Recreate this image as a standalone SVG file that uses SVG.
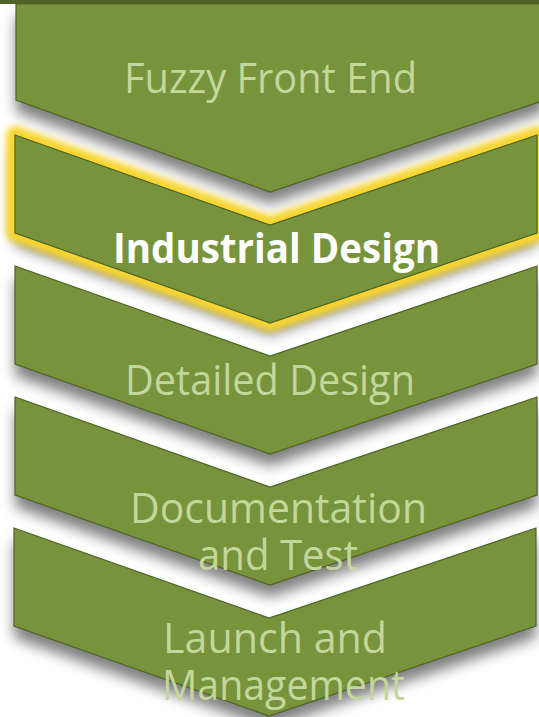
<svg xmlns="http://www.w3.org/2000/svg" xmlns:xlink="http://www.w3.org/1999/xlink" width="539" height="717" viewBox="0 0 539 717">
  <style>
    .body { fill: #77933c; stroke: #4f6228; stroke-width: 1.2; }
    .shade { fill: #000; opacity: 0.5; filter: url(#soft); }
    .glow { fill: none; stroke: #f7d633; stroke-width: 18; stroke-linejoin: round; filter: url(#halo); }
    .label { font-family: "Open Sans", "Liberation Sans", sans-serif; font-size: 42px; fill: #c3d69b; }
    .label.active { fill: #ffffff; font-weight: bold; }
  </style>
  <defs>
    <!-- one chevron, top-left corner at y = 0 -->
    <path id="chev" d="M15,0 L270,90 L537,0 V98 L270,188 L15,98 Z"/>
    <filter id="soft" x="-10%" y="-20%" width="120%" height="150%">
      <feGaussianBlur stdDeviation="7"/>
    </filter>
    <filter id="halo" x="-10%" y="-20%" width="120%" height="150%">
      <feGaussianBlur stdDeviation="3"/>
    </filter>
  </defs>

  <rect x="0" y="0" width="539" height="717" fill="#ffffff"/>
  <rect x="0" y="0" width="539" height="4" fill="#4f6228"/>

  <g id="step-fuzzy-front-end">
    <path class="shade" d="M16,4 H545 V100 L270,192 L16,100 Z" transform="translate(0,12)"/>
    <path class="body" d="M16,4 H545 V100 L270,192 L16,100 Z"/>
    <text class="label" x="124" y="93" textLength="293" lengthAdjust="spacingAndGlyphs">Fuzzy Front End</text>
  </g>

  <g id="step-industrial-design">
    <use xlink:href="#chev" class="shade" transform="translate(0,147)"/>
    <use xlink:href="#chev" class="glow" transform="translate(0,135)"/>
    <use xlink:href="#chev" class="body" transform="translate(0,135)"/>
    <text class="label active" x="113" y="263" textLength="327" lengthAdjust="spacingAndGlyphs">Industrial Design</text>
  </g>

  <g id="step-detailed-design">
    <use xlink:href="#chev" class="shade" transform="translate(0,278)"/>
    <use xlink:href="#chev" class="body" transform="translate(0,266)"/>
    <text class="label" x="125" y="395" textLength="290" lengthAdjust="spacingAndGlyphs">Detailed Design</text>
  </g>

  <g id="step-documentation-test">
    <use xlink:href="#chev" class="shade" transform="translate(0,409)"/>
    <use xlink:href="#chev" class="body" transform="translate(0,397)"/>
    <text class="label" x="130" y="523" textLength="297" lengthAdjust="spacingAndGlyphs">Documentation</text>
    <text class="label" x="198" y="570" textLength="160" lengthAdjust="spacingAndGlyphs">and Test</text>
  </g>

  <g id="step-launch-management">
    <use xlink:href="#chev" class="shade" transform="translate(-1,540)"/>
    <use xlink:href="#chev" class="body" transform="translate(-1,528)"/>
    <text class="label" x="163" y="653" textLength="224" lengthAdjust="spacingAndGlyphs">Launch and</text>
    <text class="label" x="162" y="700" textLength="243" lengthAdjust="spacingAndGlyphs">Management</text>
  </g>

  <g id="connectors"/>
</svg>
